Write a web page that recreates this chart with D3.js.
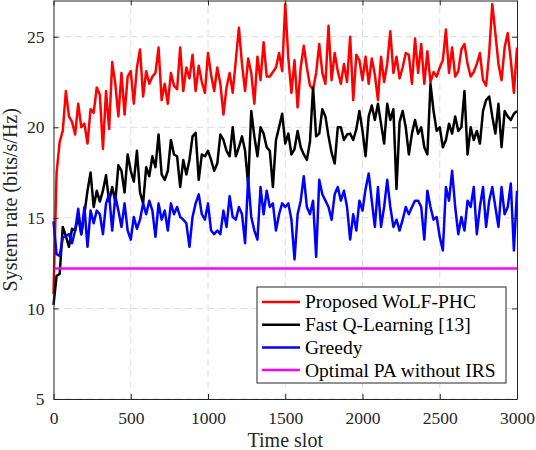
<!DOCTYPE html>
<html>
<head>
<meta charset="utf-8">
<script src="https://cdn.jsdelivr.net/npm/d3@7"></script>
<style>
  body { margin: 0; background: #fff; }
  svg { display: block; font-family: "Liberation Serif", "Times New Roman", serif; }
  .grid line { stroke: #dcdcdc; stroke-width: 1; stroke-dasharray: 7,4; }
  .axis path, .axis line { stroke: #262626; stroke-width: 1; }
  .series { fill: none; stroke-width: 2.5; stroke-linejoin: round; }
</style>
</head>
<body>
<div id="chart"></div>
<script>
// CONST and GLOBALS
const width = 536,
  height = 450,
  margin = { top: 0.5, right: 19, bottom: 51, left: 53.5 };

// time slot axis: one reading every 20 slots
const slotStep = 20;
const xTicks = [0, 500, 1000, 1500, 2000, 2500, 3000];
const yTicks = [5, 10, 15, 20, 25];

// series values (bits/s/Hz)
const wolfPhc = [
  10.8, 17.5, 19.2, 19.8, 22.0, 20.6, 20.3, 19.6, 21.3, 20.0, 20.2, 19.1, 21.0, 20.8, 22.2, 21.8, 18.8, 22.0, 19.9, 23.6,
  22.4, 20.6, 23.0, 20.7, 22.8, 23.1, 21.3, 23.3, 24.3, 21.7, 23.1, 22.4, 22.8, 23.0, 24.4, 21.5, 22.4, 21.3,
  23.0, 22.3, 22.1, 24.4, 22.0, 23.3, 22.7, 24.0, 22.0, 23.4, 22.5, 21.9, 24.1, 22.9, 22.0, 23.3, 22.4, 20.7, 22.2, 23.0,
  21.9, 23.7, 25.5, 23.5, 22.0, 23.8, 23.0, 21.3, 23.9, 22.6, 24.7, 22.8, 22.8, 23.05, 23.3, 24.1, 23.1,
  26.8, 23.8, 21.9, 23.7, 21.1, 23.3, 24.5, 23.3, 22.3, 22.1, 23.0, 24.6, 23.0, 22.4, 25.6, 22.6, 24.1, 23.1, 22.4, 23.5,
  22.5, 25.0, 21.5, 24.0, 23.7, 22.6, 23.9, 22.4, 23.8, 22.9, 21.5, 23.9, 22.5, 23.5, 25.3, 23.0, 23.9, 22.7,
  23.3, 24.1, 24.0, 22.4, 24.9, 23.0, 24.6, 22.4, 24.2, 22.5, 23.05, 22.8, 23.3, 23.7, 25.4, 23.0, 24.4, 22.8, 23.1, 24.3,
  24.6, 23.5, 22.8, 23.05, 23.5, 24.1, 22.6, 22.3, 24.1, 26.8, 25.2, 23.5, 22.6, 24.4, 25.2, 23.7, 21.9, 24.4
];
const fastQ = [
  10.2, 11.8, 11.9, 14.5, 14.0, 13.4, 14.4, 14.3, 15.05, 14.1, 15.2, 16.5, 17.5, 15.6, 16.5, 15.9, 16.5, 17.35, 15.9, 16.7,
  15.9, 17.9, 17.6, 16.4, 18.5, 17.6, 17.0, 18.7, 16.4, 15.8, 17.8, 17.3, 18.4, 17.8, 19.6, 17.4, 17.1, 17.6,
  19.3, 18.5, 18.4, 16.7, 18.2, 17.4, 18.2, 19.5, 19.7, 17.1, 18.5, 18.4, 18.7, 18.2, 17.6, 18.0, 19.6, 19.3, 18.7, 18.4,
  20.0, 18.4, 18.9, 19.5, 18.7, 16.8, 20.9, 19.5, 18.4, 20.0, 19.65, 18.9, 18.7, 16.7, 19.3, 20.0, 20.75,
  19.1, 19.65, 18.5, 18.8, 19.8, 18.9, 18.5, 18.2, 19.2, 22.2, 19.5, 19.65, 21.0, 20.6, 19.5, 18.6, 18.0, 20.0, 20.0, 19.3,
  19.6, 19.65, 19.3, 19.9, 20.9, 19.8, 18.4, 20.6, 21.2, 20.4, 21.3, 20.2, 19.1, 21.3, 20.4, 21.0, 16.6, 20.3,
  20.9, 20.0, 18.5, 19.65, 20.4, 19.65, 20.0, 18.9, 18.5, 22.4, 20.9, 19.8, 20.0, 18.9, 19.3, 20.2, 19.65, 20.6, 19.8, 20.0,
  22.0, 18.5, 20.0, 19.3, 19.8, 19.1, 20.9, 21.5, 21.7, 20.6, 19.65, 21.3, 18.9, 20.9, 20.6, 20.4, 20.75, 20.9
];
const greedy = [
  14.8, 13.0, 12.9, 13.9, 14.0, 14.1, 13.6, 14.3, 15.5, 14.1, 15.6, 13.4, 15.4, 14.7, 15.4, 15.2, 14.1, 15.8, 16.3, 14.3,
  16.2, 15.4, 14.5, 15.8, 14.3, 13.8, 15.05, 14.4, 14.9, 15.8, 15.2, 15.95, 15.4, 13.95, 15.8, 14.9, 15.4, 14.3,
  15.8, 15.2, 15.6, 15.05, 14.9, 14.7, 13.4, 15.05, 15.8, 16.3, 15.2, 14.9, 15.8, 14.3, 14.1, 14.3, 14.1, 15.4, 14.5, 16.2,
  15.05, 14.9, 15.6, 15.2, 13.6, 17.2, 15.05, 14.3, 13.8, 16.7, 15.2, 16.5, 15.6, 15.8, 14.3, 15.2, 15.8,
  15.6, 15.8, 14.9, 12.7, 15.2, 15.95, 17.3, 15.6, 15.2, 15.95, 12.85, 17.1, 16.3, 15.95, 15.6, 14.9, 16.3, 16.7, 15.95, 16.5,
  15.6, 13.8, 15.2, 14.3, 15.95, 15.4, 16.6, 17.45, 15.95, 14.5, 16.7, 14.5, 15.6, 17.1, 15.6, 14.5, 14.9, 14.3,
  14.9, 15.6, 15.2, 15.6, 15.95, 15.95, 15.6, 13.8, 16.5, 15.6, 14.9, 15.05, 13.95, 13.2, 16.7, 15.95, 17.6, 15.6, 14.1, 15.05,
  14.3, 15.95, 15.6, 16.7, 14.1, 15.6, 16.7, 14.5, 15.95, 16.7, 15.6, 14.5, 16.7, 15.2, 15.6, 16.9, 13.2, 16.5
];
// flat benchmark: start and end of the run
const noIrsSlots = [0, 3000];
const noIrs = [12.2, 12.2];

const seriesNames = ["Proposed WoLF-PHC", "Fast Q-Learning [13]", "Greedy", "Optimal PA without IRS"];
const seriesColors = ["#ff0000", "#000000", "#0000ff", "#ff00ff"];

const serif = "Liberation Serif, Times New Roman, serif";

let svg, xScale, yScale;

function init() {
  xScale = d3.scaleLinear().domain([0, 3000]).range([margin.left, width - margin.right]);
  yScale = d3.scaleLinear().domain([5, 27]).range([height - margin.bottom, margin.top]);

  svg = d3.select("#chart").append("svg").attr("width", width).attr("height", height);

  // dashed grid
  const grid = svg.append("g").attr("class", "grid");
  grid.selectAll(".gx")
    .data(xTicks.slice(1, -1))
    .join("line")
    .attr("class", "gx")
    .attr("x1", (d) => xScale(d)).attr("x2", (d) => xScale(d))
    .attr("y1", yScale.range()[0]).attr("y2", yScale.range()[1]);
  grid.selectAll(".gy")
    .data(yTicks)
    .join("line")
    .attr("class", "gy")
    .attr("x1", xScale.range()[0]).attr("x2", xScale.range()[1])
    .attr("y1", (d) => yScale(d)).attr("y2", (d) => yScale(d));

  // lines
  const line = d3.line().x((d) => xScale(d[0])).y((d) => yScale(d[1]));
  const lineData = [
    wolfPhc.map((v, i) => [i * slotStep, v]),
    fastQ.map((v, i) => [i * slotStep, v]),
    greedy.map((v, i) => [i * slotStep, v]),
    noIrs.map((v, i) => [noIrsSlots[i], v]),
  ];
  svg.append("g")
    .selectAll("path")
    .data(lineData)
    .join("path")
    .attr("class", "series")
    .attr("stroke", (d, i) => seriesColors[i])
    .attr("d", line);

  // axes, ticks point inward, box all round
  const bottom = yScale.range()[0], top = yScale.range()[1];
  const fmt = d3.format("d");
  svg.append("g").attr("class", "axis")
    .attr("transform", `translate(0,${bottom})`)
    .call(d3.axisBottom(xScale).tickValues(xTicks).tickFormat(fmt).tickSizeInner(-5).tickSizeOuter(0).tickPadding(13));
  svg.append("g").attr("class", "axis")
    .attr("transform", `translate(0,${top})`)
    .call(d3.axisTop(xScale).tickValues(xTicks).tickSizeInner(-5).tickSizeOuter(0).tickFormat(""));
  svg.append("g").attr("class", "axis")
    .attr("transform", `translate(${xScale.range()[0]},0)`)
    .call(d3.axisLeft(yScale).tickValues(yTicks).tickFormat(fmt).tickSizeInner(-5).tickSizeOuter(0).tickPadding(9));
  svg.append("g").attr("class", "axis")
    .attr("transform", `translate(${xScale.range()[1]},0)`)
    .call(d3.axisRight(yScale).tickValues(yTicks).tickSizeInner(-5).tickSizeOuter(0).tickFormat(""));
  svg.selectAll(".axis")
    .attr("font-family", serif)
    .attr("font-size", 17.5);
  svg.selectAll(".axis text").attr("fill", "#262626");

  // axis titles
  svg.append("text")
    .attr("x", (xScale.range()[0] + xScale.range()[1]) / 2)
    .attr("y", 447)
    .attr("text-anchor", "middle")
    .attr("font-size", 20)
    .attr("fill", "#262626")
    .text("Time slot");
  svg.append("text")
    .attr("transform", `translate(17,${(top + bottom) / 2}) rotate(-90)`)
    .attr("text-anchor", "middle")
    .attr("font-size", 20)
    .attr("fill", "#262626")
    .text("System rate (bits/s/Hz)");

  // legend
  const lg = svg.append("g").attr("transform", "translate(257,287)");
  lg.append("rect")
    .attr("width", 249).attr("height", 96)
    .attr("fill", "#fff").attr("stroke", "#262626");
  const row = lg.selectAll(".row")
    .data(seriesNames)
    .join("g")
    .attr("transform", (d, i) => `translate(0,${15 + i * 22.7})`);
  row.append("line")
    .attr("x1", 5).attr("x2", 43)
    .attr("stroke", (d, i) => seriesColors[i])
    .attr("stroke-width", 2.5);
  row.append("text")
    .attr("x", 48).attr("dy", "0.33em")
    .attr("font-size", 19.5)
    .attr("fill", "#000")
    .text((d) => d);
}

init();
</script>
</body>
</html>
